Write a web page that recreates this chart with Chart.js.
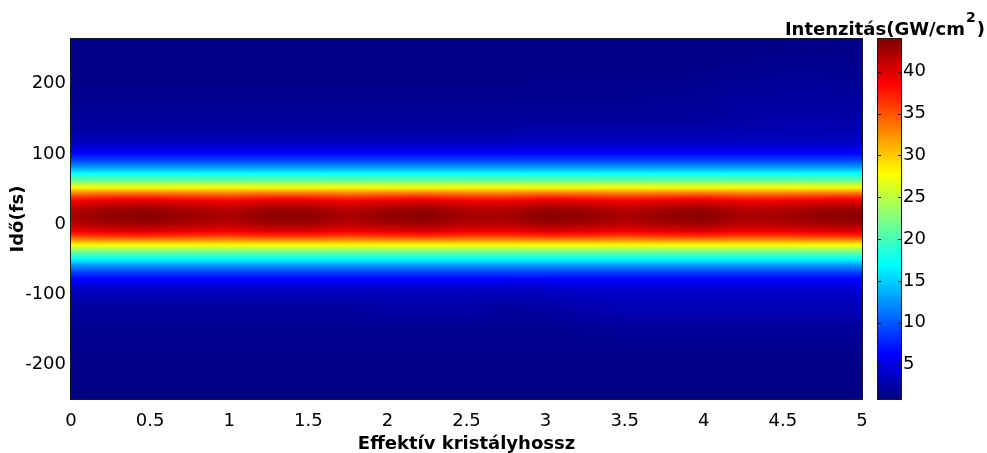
<!DOCTYPE html>
<html>
<head>
<meta charset="utf-8">
<script src="https://cdn.jsdelivr.net/npm/chart.js@4.4.0/dist/chart.umd.min.js"></script>
<style>
  html, body { margin: 0; padding: 0; background: #fff; }
  #wrap { position: relative; width: 987px; height: 453px; }
  #main { position: absolute; left: 0; top: 0; }
  #cbar { position: absolute; left: 760px; top: 0; }
</style>
</head>
<body>
<div id="wrap">
  <canvas id="main" width="987" height="453"></canvas>
  <canvas id="cbar" width="227" height="453"></canvas>
</div>
<script>
// effective crystal length (columns of the map)
const lengths = [0, 0.25, 0.5, 0.75, 1, 1.25, 1.5, 1.75, 2, 2.25, 2.5, 2.75, 3, 3.25, 3.5, 3.75, 4, 4.25, 4.5, 4.75, 5];
// time in fs (rows of the map, top to bottom)
const times = [264, 217, 177, 151, 131, 116, 101, 91, 81, 71, 61, 51, 41, 31, 21, 11, 1, -9, -19, -29, -39, -49, -59, -69, -79, -94, -109, -129, -149, -179, -213, -250];
// intensity in GW/cm^2, one row per time value
const intensity = [
  [1.2, 1.2, 1.2, 1.2, 1.2, 1.2, 1.2, 1.2, 1.2, 1.2, 1.2, 1.2, 1.2, 1.2, 1.2, 1.2, 1.2, 1.2, 1.2, 1.2, 1.2],
  [1.3, 1.3, 1.3, 1.3, 1.3, 1.3, 1.3, 1.3, 1.3, 1.3, 1.3, 1.3, 1.3, 1.3, 1.3, 1.3, 1.4, 1.5, 1.6, 1.6, 1.5],
  [1.5, 1.5, 1.5, 1.5, 1.5, 1.5, 1.5, 1.5, 1.5, 1.5, 1.5, 1.5, 1.6, 1.6, 1.6, 1.7, 1.8, 2.2, 2.3, 2.3, 2.2],
  [1.9, 1.9, 1.9, 1.9, 1.9, 1.9, 1.9, 1.9, 1.9, 1.9, 1.9, 1.9, 2.1, 2.1, 2.1, 2.1, 2.1, 2.5, 2.6, 2.6, 2.5],
  [2.6, 2.6, 2.6, 2.6, 2.6, 2.6, 2.6, 2.6, 2.6, 2.6, 2.6, 2.6, 2.9, 2.9, 2.9, 2.9, 2.9, 3.0, 3.0, 3.0, 3.0],
  [3.6, 3.6, 3.6, 3.6, 3.6, 3.6, 3.6, 3.6, 3.6, 3.6, 3.6, 3.6, 3.8, 3.8, 3.8, 3.8, 3.8, 3.8, 3.8, 3.8, 3.8],
  [6.3, 6.3, 6.3, 6.3, 6.3, 6.3, 6.3, 6.3, 6.3, 6.3, 6.3, 6.3, 6.3, 6.3, 6.3, 6.3, 6.3, 6.3, 6.3, 6.3, 6.3],
  [9, 9, 9, 9, 9, 9, 9, 9, 9, 9, 9, 9, 9, 9, 9, 9, 9, 9, 9, 9, 9],
  [12.8, 12.8, 12.8, 12.8, 12.8, 12.8, 12.8, 12.8, 12.8, 12.8, 12.8, 12.8, 12.8, 12.8, 12.8, 12.8, 12.8, 12.8, 12.8, 12.8, 12.8],
  [17.5, 17.5, 17.5, 17.5, 17.5, 17.5, 17.5, 17.5, 17.5, 17.5, 17.5, 17.5, 17.5, 17.5, 17.5, 17.5, 17.5, 17.5, 17.5, 17.5, 17.5],
  [22, 22, 22, 22, 22, 22, 22, 22, 22, 22, 22, 22, 22, 22, 22, 22, 22, 22, 22, 22, 22],
  [28.5, 28.5, 28.5, 28.5, 28.5, 28.5, 28.5, 28.5, 28.5, 28.5, 28.5, 28.5, 28.5, 28.5, 28.5, 28.5, 28.5, 28.5, 28.5, 28.5, 28.5],
  [34.8, 35.4, 35.5, 35.1, 34.8, 35.4, 35.4, 34.8, 35.3, 35.5, 35.0, 34.9, 35.5, 35.3, 34.8, 35.3, 35.5, 34.9, 35.0, 35.4, 35.5],
  [39.6, 40.3, 40.5, 40.0, 39.6, 40.4, 40.4, 39.6, 40.2, 40.5, 39.8, 39.7, 40.5, 40.2, 39.6, 40.2, 40.5, 39.7, 39.8, 40.3, 40.5],
  [41.4, 42.5, 42.8, 42.0, 41.4, 42.6, 42.6, 41.4, 42.4, 42.8, 41.7, 41.6, 42.8, 42.4, 41.4, 42.3, 42.8, 41.5, 41.7, 42.5, 42.8],
  [42.2, 43.3, 43.6, 42.8, 42.2, 43.4, 43.4, 42.2, 43.2, 43.6, 42.5, 42.4, 43.6, 43.2, 42.2, 43.1, 43.6, 42.3, 42.5, 43.3, 43.6],
  [41.4, 42.5, 42.8, 42.0, 41.4, 42.6, 42.6, 41.4, 42.4, 42.8, 41.7, 41.6, 42.8, 42.4, 41.4, 42.3, 42.8, 41.5, 41.7, 42.5, 42.8],
  [39.6, 40.3, 40.5, 40.0, 39.6, 40.4, 40.4, 39.6, 40.2, 40.5, 39.8, 39.7, 40.5, 40.2, 39.6, 40.2, 40.5, 39.7, 39.8, 40.3, 40.5],
  [34.8, 35.4, 35.5, 35.1, 34.8, 35.4, 35.4, 34.8, 35.3, 35.5, 35.0, 34.9, 35.5, 35.3, 34.8, 35.3, 35.5, 34.9, 35.0, 35.4, 35.5],
  [28.5, 28.5, 28.5, 28.5, 28.5, 28.5, 28.5, 28.5, 28.5, 28.5, 28.5, 28.5, 28.5, 28.5, 28.5, 28.5, 28.5, 28.5, 28.5, 28.5, 28.5],
  [22, 22, 22, 22, 22, 22, 22, 22, 22, 22, 22, 22, 22, 22, 22, 22, 22, 22, 22, 22, 22],
  [17.5, 17.5, 17.5, 17.5, 17.5, 17.5, 17.5, 17.5, 17.5, 17.5, 17.5, 17.5, 17.5, 17.5, 17.5, 17.5, 17.5, 17.5, 17.5, 17.5, 17.5],
  [12.8, 12.8, 12.8, 12.8, 12.8, 12.8, 12.8, 12.8, 12.8, 12.8, 12.8, 12.8, 12.8, 12.8, 12.8, 12.8, 12.8, 12.8, 12.8, 12.8, 12.8],
  [9, 9, 9, 9, 9, 9, 9, 9, 9, 9, 9, 9, 9, 9, 9, 9, 9, 9, 9, 9, 9],
  [6.3, 6.3, 6.3, 6.3, 6.3, 6.3, 6.3, 6.3, 6.3, 6.3, 6.3, 6.3, 6.3, 6.3, 6.3, 6.3, 6.3, 6.3, 6.3, 6.3, 6.3],
  [3.6, 3.6, 3.6, 3.6, 3.6, 3.6, 3.6, 3.6, 3.6, 3.6, 3.6, 3.6, 3.8, 4.1, 4.2, 4.2, 4.2, 4.2, 4.2, 4.2, 4.2],
  [2.6, 2.6, 2.6, 2.6, 2.6, 2.6, 2.6, 2.6, 3.0, 3.0, 3.0, 2.6, 2.8, 3.3, 3.4, 3.4, 3.4, 3.4, 3.4, 3.4, 3.4],
  [1.9, 1.9, 1.9, 1.9, 1.9, 1.9, 1.9, 1.9, 2.4, 2.4, 2.4, 1.9, 2.0, 2.5, 2.8, 2.8, 2.8, 2.8, 2.8, 2.8, 2.8],
  [1.6, 1.6, 1.6, 1.6, 1.6, 1.6, 1.6, 1.6, 1.6, 1.6, 1.6, 1.6, 1.6, 1.7, 2.0, 2.0, 2.0, 2.0, 2.0, 2.0, 2.0],
  [1.4, 1.4, 1.4, 1.4, 1.4, 1.4, 1.4, 1.4, 1.4, 1.4, 1.4, 1.4, 1.4, 1.4, 1.4, 1.4, 1.4, 1.4, 1.4, 1.4, 1.4],
  [1.2, 1.2, 1.2, 1.2, 1.2, 1.2, 1.2, 1.2, 1.2, 1.2, 1.2, 1.2, 1.2, 1.2, 1.2, 1.2, 1.2, 1.2, 1.2, 1.2, 1.2],
  [1.1, 1.1, 1.1, 1.1, 1.1, 1.1, 1.1, 1.1, 1.1, 1.1, 1.1, 1.1, 1.1, 1.1, 1.1, 1.1, 1.1, 1.1, 1.1, 1.1, 1.1]
];

const xTicks = [0, 0.5, 1, 1.5, 2, 2.5, 3, 3.5, 4, 4.5, 5];
const yTicks = [-200, -100, 0, 100, 200];
const cbTicks = [5, 10, 15, 20, 25, 30, 35, 40];
const cMin = 0.9, cMax = 43.9;

const family = "'DejaVu Sans', sans-serif";

function clamp01(v) { return Math.max(0, Math.min(1, v)); }
// matlab jet
function jet(v) {
  const f = clamp01((v - cMin) / (cMax - cMin));
  const r = clamp01(Math.min(4 * f - 1.5, -4 * f + 4.5));
  const g = clamp01(Math.min(4 * f - 0.5, -4 * f + 3.5));
  const b = clamp01(Math.min(4 * f + 0.5, -4 * f + 2.5));
  return [Math.round(r * 255), Math.round(g * 255), Math.round(b * 255)];
}

// find segment index + fraction in a monotonic array
function locate(arr, v) {
  const asc = arr[arr.length - 1] > arr[0];
  for (let i = 0; i < arr.length - 1; i++) {
    const a = arr[i], b = arr[i + 1];
    const inside = asc ? (v >= a && v <= b) : (v <= a && v >= b);
    if (inside) return [i, (v - a) / (b - a)];
  }
  return v < arr[0] === asc ? [0, 0] : [arr.length - 2, 1];
}

const heatmap = {
  id: "heatmap",
  beforeDraw(chart) {
    const { ctx, chartArea: ca, scales } = chart;
    const w = Math.round(ca.right - ca.left), h = Math.round(ca.bottom - ca.top);
    const img = ctx.createImageData(w, h);
    const cols = [], rows = [];
    for (let px = 0; px < w; px++) cols.push(locate(lengths, scales.x.getValueForPixel(ca.left + px + 0.5)));
    for (let py = 0; py < h; py++) rows.push(locate(times, scales.y.getValueForPixel(ca.top + py + 0.5)));
    for (let py = 0; py < h; py++) {
      const [ri, rf] = rows[py];
      const r0 = intensity[ri], r1 = intensity[ri + 1];
      for (let px = 0; px < w; px++) {
        const [ci, cf] = cols[px];
        const top = r0[ci] + (r0[ci + 1] - r0[ci]) * cf;
        const bot = r1[ci] + (r1[ci + 1] - r1[ci]) * cf;
        const c = jet(top + (bot - top) * rf);
        const k = (py * w + px) * 4;
        img.data[k] = c[0]; img.data[k + 1] = c[1]; img.data[k + 2] = c[2]; img.data[k + 3] = 255;
      }
    }
    ctx.putImageData(img, Math.round(ca.left), Math.round(ca.top));
  },
  afterDraw(chart) {
    const { ctx, chartArea: ca } = chart;
    ctx.save();
    ctx.strokeStyle = "#1a1a1a";
    ctx.lineWidth = 1;
    ctx.strokeRect(Math.round(ca.left) - 0.5, Math.round(ca.top) - 0.5, Math.round(ca.right - ca.left) + 1, Math.round(ca.bottom - ca.top) + 1);
    ctx.restore();
  }
};

new Chart(document.getElementById("main"), {
  type: "scatter",
  data: { datasets: [] },
  options: {
    responsive: false,
    animation: false,
    events: [],
    layout: { padding: { left: 0, right: 125, top: 39, bottom: 0 } },
    plugins: { legend: { display: false }, tooltip: { enabled: false } },
    scales: {
      x: {
        type: "linear", min: 0, max: 5,
        afterBuildTicks: s => { s.ticks = xTicks.map(v => ({ value: v })); },
        afterFit: s => { s.height = 54; },
        grid: { display: false, drawTicks: false }, border: { display: false },
        ticks: { color: "#000", font: { family, size: 18 }, padding: 12, maxRotation: 0, autoSkip: false, callback: v => String(v) },
        title: { display: true, text: "Effektív kristályhossz", color: "#000", font: { family, size: 18, weight: "bold", lineHeight: 0.9 }, padding: { top: 0, bottom: 1 } }
      },
      y: {
        type: "linear", min: -250, max: 264,
        afterBuildTicks: s => { s.ticks = yTicks.map(v => ({ value: v })); },
        afterFit: s => { s.width = 71; },
        grid: { display: false, drawTicks: false }, border: { display: false },
        ticks: { color: "#000", font: { family, size: 18 }, padding: 5, callback: v => String(v) },
        title: { display: true, text: "Idő(fs)", color: "#000", font: { family, size: 18, weight: "bold", lineHeight: 0.9 }, padding: { top: 10, bottom: 0 } }
      }
    }
  },
  plugins: [heatmap]
});

// colour bar
const colorbar = {
  id: "colorbar",
  beforeDraw(chart) {
    const { ctx, chartArea: ca, scales } = chart;
    ctx.save();
    for (let py = Math.round(ca.top); py < Math.round(ca.bottom); py++) {
      const c = jet(scales.y.getValueForPixel(py + 0.5));
      ctx.fillStyle = `rgb(${c[0]},${c[1]},${c[2]})`;
      ctx.fillRect(ca.left, py, ca.right - ca.left, 1);
    }
    ctx.restore();
  },
  afterDraw(chart) {
    const { ctx, chartArea: ca, scales } = chart;
    ctx.save();
    ctx.strokeStyle = "#1a1a1a";
    ctx.lineWidth = 1;
    ctx.strokeRect(Math.round(ca.left) - 0.5, Math.round(ca.top) - 0.5, Math.round(ca.right - ca.left) + 1, Math.round(ca.bottom - ca.top) + 1);
    ctx.beginPath();
    cbTicks.forEach(v => {
      const y = Math.round(scales.y.getPixelForValue(v)) + 0.5;
      ctx.moveTo(ca.left, y); ctx.lineTo(ca.left + 3, y);
      ctx.moveTo(ca.right, y); ctx.lineTo(ca.right - 3, y);
    });
    ctx.stroke();
    // colour bar title with superscript
    ctx.fillStyle = "#000";
    ctx.textBaseline = "alphabetic";
    ctx.textAlign = "right";
    const main = "Intenzitás(GW/cm", close = ")";
    ctx.font = `bold 14px ${family}`;
    const supW = ctx.measureText("2").width;
    ctx.font = `bold 18px ${family}`;
    const closeW = ctx.measureText(close).width;
    const right = chart.width - 2;
    ctx.fillText(close, right, 35);
    ctx.fillText(main, right - closeW - supW - 2, 35);
    ctx.font = `bold 14px ${family}`;
    ctx.fillText("2", right - closeW - 1, 22);
    ctx.restore();
  }
};

new Chart(document.getElementById("cbar"), {
  type: "scatter",
  data: { datasets: [] },
  options: {
    responsive: false,
    animation: false,
    events: [],
    layout: { padding: { left: 118, right: 0, top: 39, bottom: 54 } },
    plugins: { legend: { display: false }, tooltip: { enabled: false } },
    scales: {
      x: { display: false, min: 0, max: 1 },
      y: {
        type: "linear", position: "right", min: cMin, max: cMax,
        afterBuildTicks: s => { s.ticks = cbTicks.map(v => ({ value: v })); },
        afterFit: s => { s.width = 86; },
        grid: { display: false, drawTicks: false }, border: { display: false },
        ticks: { color: "#000", font: { family, size: 18 }, padding: 2 }
      }
    }
  },
  plugins: [colorbar]
});
</script>
</body>
</html>
